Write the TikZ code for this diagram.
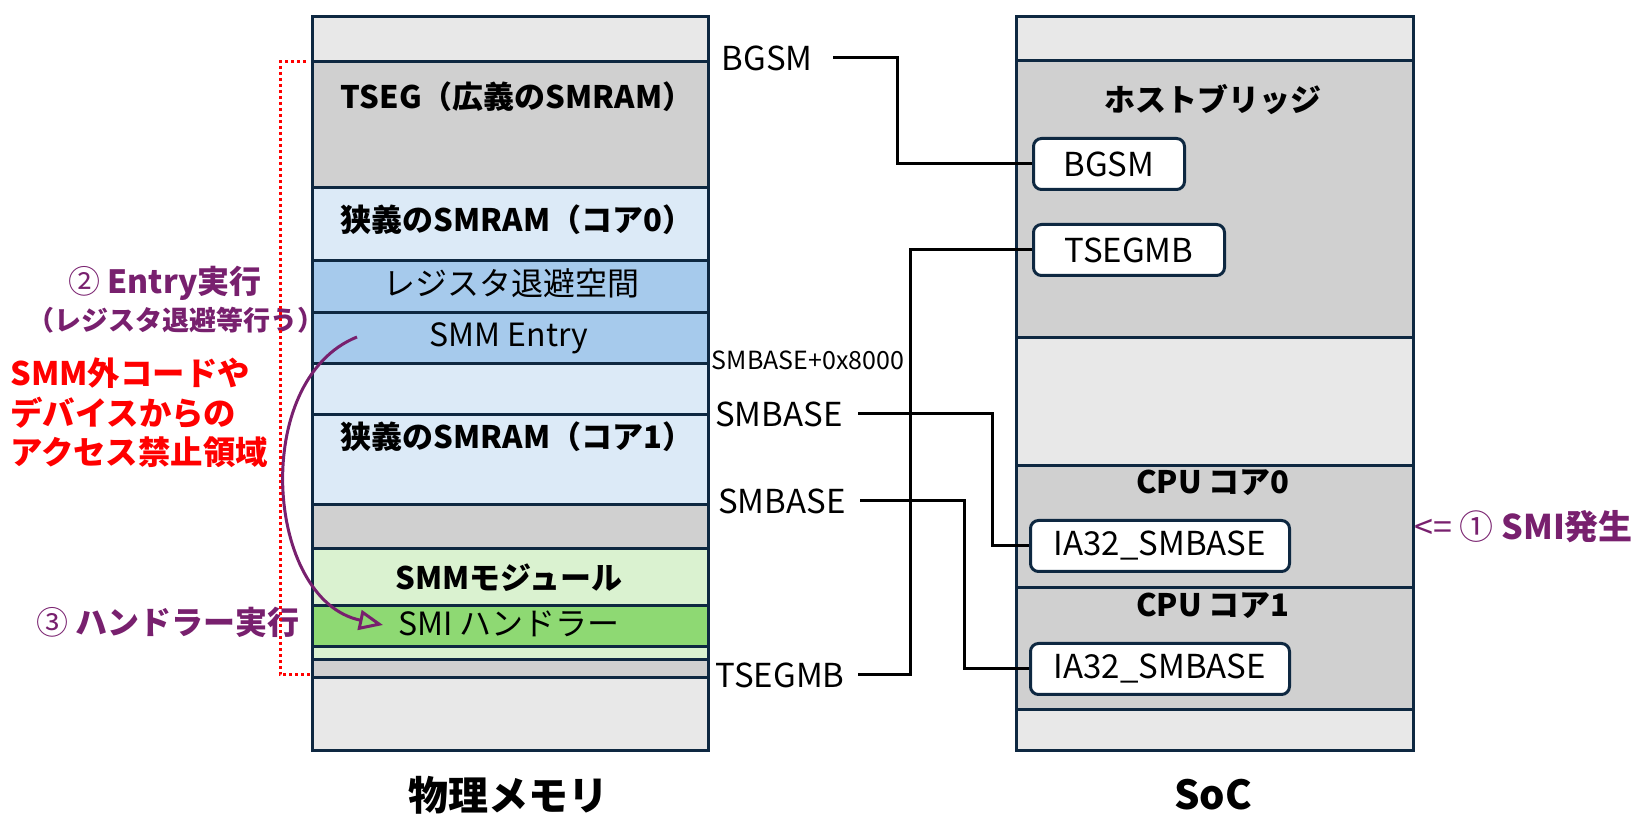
\documentclass[tikz,border=0pt]{standalone}
\usepackage{fontspec}
\setmainfont{Noto Sans CJK JP}
\usetikzlibrary{arrows.meta,calc}
\definecolor{bord}{HTML}{0E2841}
\definecolor{lgray}{HTML}{E8E8E8}
\definecolor{mgray}{HTML}{D0D0D0}
\definecolor{lblue}{HTML}{DCEAF7}
\definecolor{mblue}{HTML}{A6CAEC}
\definecolor{lgreen}{HTML}{DAF2D0}
\definecolor{mgreen}{HTML}{8ED973}
\definecolor{purp}{HTML}{78206E}
\definecolor{redc}{HTML}{FF0000}
\begin{document}
\begin{tikzpicture}[x=0.5pt,y=-0.5pt,
  band/.style={draw=bord, line width=1.5pt, rectangle, inner sep=0pt, anchor=north west},
  memband/.style={band, minimum width=198pt},
  socband/.style={band, minimum width=198.5pt},
  bt/.style={inner sep=0pt, font=\fontsize{15.5}{18}\selectfont\bfseries},
  rt/.style={inner sep=0pt, font=\fontsize{16}{19}\selectfont},
  lt/.style={inner sep=0pt, font=\fontsize{16.5}{19}\selectfont},
  st/.style={inner sep=0pt, font=\fontsize{12.5}{15}\selectfont},
  regbox/.style={draw=bord, fill=white, line width=1.5pt, rounded corners=4pt, inner sep=0pt, anchor=north west, minimum height=25.5pt, font=\fontsize{16.5}{19}\selectfont},
  conn/.style={draw=black, line width=1.5pt},
  bigl/.style={inner sep=0pt, font=\fontsize{20}{24}\selectfont\bfseries},
  ann/.style={inner sep=0pt, text=purp, font=\fontsize{16}{19}\selectfont\bfseries},
]
\useasboundingbox (0,0) rectangle (1640,823);

% ---- memory column ----
\node[memband, fill=lgray,  minimum height=22.5pt] (m1)  at (311,15)  {};
\node[memband, fill=mgray,  minimum height=63pt]   (m2)  at (311,60)  {};
\node[memband, fill=lblue,  minimum height=36.5pt] (m3)  at (311,186) {};
\node[memband, fill=mblue,  minimum height=26pt]   (m4)  at (311,259) {};
\node[memband, fill=mblue,  minimum height=25.5pt] (m5)  at (311,311) {};
\node[memband, fill=lblue,  minimum height=25.5pt] (m6)  at (311,362) {};
\node[memband, fill=lblue,  minimum height=45pt]   (m7)  at (311,413) {};
\node[memband, fill=mgray,  minimum height=22pt]   (m8)  at (311,503) {};
\node[memband, fill=lgreen, minimum height=28.5pt] (m9)  at (311,547) {};
\node[memband, fill=mgreen, minimum height=20.5pt] (m10) at (311,604) {};
\node[memband, fill=lgreen, minimum height=6.5pt]  (m11) at (311,645) {};
\node[memband, fill=mgray,  minimum height=9pt]    (m12) at (311,658) {};
\node[memband, fill=lgray,  minimum height=36.5pt] (m13) at (311,676) {};

\node[bt] (tTSEG)  at (517,97)  {TSEG（広義のSMRAM）};
\node[bt] (tC0)    at (517,220) {狭義のSMRAM（コア0）};
\node[rt] (tReg)   at (511,283) {レジスタ退避空間};
\node[rt] (tEntry) at (509,338) {SMM Entry};
\node[bt] (tC1)    at (517,437) {狭義のSMRAM（コア1）};
\node[bt] (tMod)   at (509,578) {SMMモジュール};
\node[rt] (tSMI)   at (509,624) {SMI ハンドラー};

% ---- SoC column ----
\node[socband, fill=lgray, minimum height=22pt]   (s1) at (1015,15)  {};
\node[socband, fill=mgray, minimum height=138.5pt] (s2) at (1015,59)  {};
\node[socband, fill=lgray, minimum height=64pt]   (s3) at (1015,336) {};
\node[socband, fill=mgray, minimum height=61pt]   (s4) at (1015,464) {};
\node[socband, fill=mgray, minimum height=61pt]   (s5) at (1015,586) {};
\node[socband, fill=lgray, minimum height=20.5pt] (s6) at (1015,708) {};

\node[bt] (tHB)   at (1213,100) {ホストブリッジ};
\node[bt] (tCPU0) at (1213,483) {CPU コア0};
\node[bt] (tCPU1) at (1213,606) {CPU コア1};

\node[regbox, minimum width=75.5pt]  (bBGSM)   at (1032,137) {BGSM};
\node[regbox, minimum width=95.5pt]  (bTSEGMB) at (1032,223) {TSEGMB};
\node[regbox, minimum width=129.5pt] (bIA0)    at (1029,519) {IA32\_SMBASE};
\node[regbox, minimum width=129.5pt] (bIA1)    at (1029,642) {IA32\_SMBASE};

% ---- address labels ----
\node[lt, anchor=east] (lBGSM) at (813,58)  {BGSM};
\node[st]              (lSB8)  at (808,360) {SMBASE+0x8000};
\node[lt, anchor=east] (lSB1)  at (843,414) {SMBASE};
\node[lt, anchor=east] (lSB2)  at (846,501) {SMBASE};
\node[lt, anchor=east] (lTS)   at (845,675) {TSEGMB};

\coordinate (jB)  at (897,0);
\coordinate (jT)  at (910,0);
\coordinate (jS1) at (992,0);
\coordinate (jS2) at (964,0);
\draw[conn] ([xshift=10pt]lBGSM.east) -| (jB |- bBGSM.west) -- (bBGSM.west);
\draw[conn] ([xshift=6.5pt]lTS.east) -| (jT |- bTSEGMB.west) -- (bTSEGMB.west);
\draw[conn] ([xshift=7.5pt]lSB1.east) -| (jS1 |- bIA0.west) -- (bIA0.west);
\draw[conn] ([xshift=7pt]lSB2.east) -| (jS2 |- bIA1.west) -- (bIA1.west);

% ---- bottom titles ----
\node[bigl] (lMem) at (508,795) {物理メモリ};
\node[bigl] (lSoC) at (1213,795) {SoC};

% ---- annotations ----
\node[ann] (a2)  at (165,283) {{\mdseries ②} Entry実行};
\node[ann, font=\fontsize{13.5}{16}\selectfont\bfseries] (a2b) at (176,320) {（レジスタ退避等行う）};
\node[inner sep=0pt, anchor=west, align=left, text=redc, font=\fontsize{16.2}{19.75}\selectfont\bfseries] (aRed) at (10,413) {SMM外コードや\\デバイスからの\\アクセス禁止領域};
\node[ann, anchor=east] (a3) at (300,622) {{\mdseries ③} ハンドラー実行};
\node[ann, anchor=west, font=\fontsize{17}{20}\selectfont\bfseries] (a1) at (1414,527) {{\mdseries <= ①} SMI発生};

% red dotted bracket
\coordinate (rb1) at (306,62);
\coordinate (rb2) at (310,675);
\coordinate (rbx) at (280,0);
\draw[redc, line width=1.5pt, dash pattern=on 1.5pt off 1.5pt] (rb1) -| (rbx |- rb2) -- (rb2);

% purple curved arrow
\coordinate (cs) at (357,337);
\coordinate (ce) at (383,625);
\draw[purp, line width=1.5pt, -{Triangle[open, length=12pt, width=10pt]}] (cs) .. controls (250,380) and (265,600) .. (ce);
\end{tikzpicture}
\end{document}
